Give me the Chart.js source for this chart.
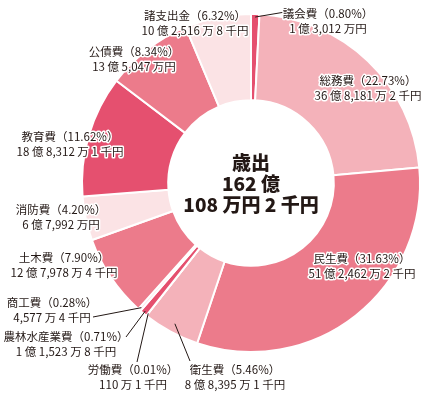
<!DOCTYPE html>
<html>
<head>
<meta charset="utf-8">
<script src="https://cdn.jsdelivr.net/npm/chart.js@4/dist/chart.umd.min.js"></script>
<style>
  html, body { margin: 0; padding: 0; background: #fff; }
  #wrap { width: 444px; height: 397px; position: relative; }
</style>
</head>
<body>
<div id="wrap"><canvas id="budget-chart"></canvas></div>
<script>
// 歳出の内訳
const categories = ['議会費', '総務費', '民生費', '衛生費', '労働費', '農林水産業費', '商工費', '土木費', '消防費', '教育費', '公債費', '諸支出金'];
const shares = [0.80, 22.73, 31.63, 5.46, 0.01, 0.71, 0.28, 7.90, 4.20, 11.62, 8.34, 6.32];
const amounts = [
    '1 億 3,012 万円', '36 億 8,181 万 2 千円', '51 億 2,462 万 2 千円', '8 億 8,395 万 1 千円',
    '110 万 1 千円', '1 億 1,523 万 8 千円', '4,577 万 4 千円', '12 億 7,978 万 4 千円',
    '6 億 7,992 万円', '18 億 8,312 万 1 千円', '13 億 5,047 万円', '10 億 2,516 万 8 千円'
];
const centerLines = ['歳出', '162 億', '108 万円 2 千円'];

const DARK = '#e5506f', MID = '#ec7b8b', LIGHT = '#f4b2ba', PALE = '#fbe3e5';
const sliceColors = [DARK, LIGHT, MID, LIGHT, LIGHT, DARK, PALE, MID, PALE, DARK, MID, PALE];

// label placement: text centre x, first line y, optional leader end (x,y) and depth into slice
const labelPos = [
    { x: 328, y: 14, lead: [285, 12], depth: 3 },
    { x: 368, y: 81 },
    { x: 362, y: 259 },
    { x: 235, y: 370, lead: [190, 361], depth: 9 },
    { x: 133, y: 370, lead: [137, 362], depth: 3 },
    { x: 66, y: 337, lead: [126, 337], depth: 3 },
    { x: 52, y: 303, lead: [93, 317], depth: 3 },
    { x: 64, y: 258 },
    { x: 61, y: 210 },
    { x: 70, y: 137 },
    { x: 134, y: 52 },
    { x: 195, y: 16 }
];

const FONT = '"Noto Sans CJK JP", "Noto Sans", sans-serif';

const labelPlugin = {
    id: 'sliceLabels',
    afterDraw(chart) {
        const ctx = chart.ctx;
        const arcs = chart.getDatasetMeta(0).data;
        ctx.save();

        // leader lines
        ctx.strokeStyle = '#231815';
        ctx.lineWidth = 1;
        labelPos.forEach((p, i) => {
            if (!p.lead) return;
            const a = arcs[i];
            const mid = (a.startAngle + a.endAngle) / 2;
            const r = a.outerRadius - p.depth;
            ctx.beginPath();
            ctx.moveTo(a.x + Math.cos(mid) * r, a.y + Math.sin(mid) * r);
            ctx.lineTo(p.lead[0], p.lead[1]);
            ctx.stroke();
        });

        // slice labels with white halo
        ctx.font = '11.5px ' + FONT;
        ctx.textAlign = 'center';
        ctx.textBaseline = 'middle';
        ctx.lineJoin = 'round';
        labelPos.forEach((p, i) => {
            const lines = [categories[i] + '（' + shares[i].toFixed(2) + '%）', amounts[i]];
            lines.forEach((t, k) => {
                ctx.strokeStyle = '#fff';
                ctx.lineWidth = 3;
                ctx.strokeText(t, p.x, p.y + k * 15);
                ctx.fillStyle = '#231815';
                ctx.fillText(t, p.x, p.y + k * 15);
            });
        });

        // centre total
        const cx = arcs[0].x, cy = arcs[0].y;
        ctx.font = '900 19px ' + FONT;
        ctx.fillStyle = '#231815';
        centerLines.forEach((t, k) => {
            ctx.fillText(t, cx, cy - 20 + k * 21);
        });
        ctx.restore();
    }
};

const budgetChart = new Chart(document.getElementById('budget-chart').getContext('2d'), {
    type: 'doughnut',
    data: {
        labels: categories,
        datasets: [{
            data: shares,
            backgroundColor: sliceColors,
            borderColor: '#ffffff',
            borderWidth: 2
        }]
    },
    options: {
        responsive: true,
        maintainAspectRatio: false,
        animation: false,
        cutout: '49%',
        layout: { padding: { left: 81, top: 13, right: 23, bottom: 44 } },
        plugins: {
            legend: { display: false },
            tooltip: { enabled: false }
        }
    },
    plugins: [labelPlugin]
});
</script>
</body>
</html>
